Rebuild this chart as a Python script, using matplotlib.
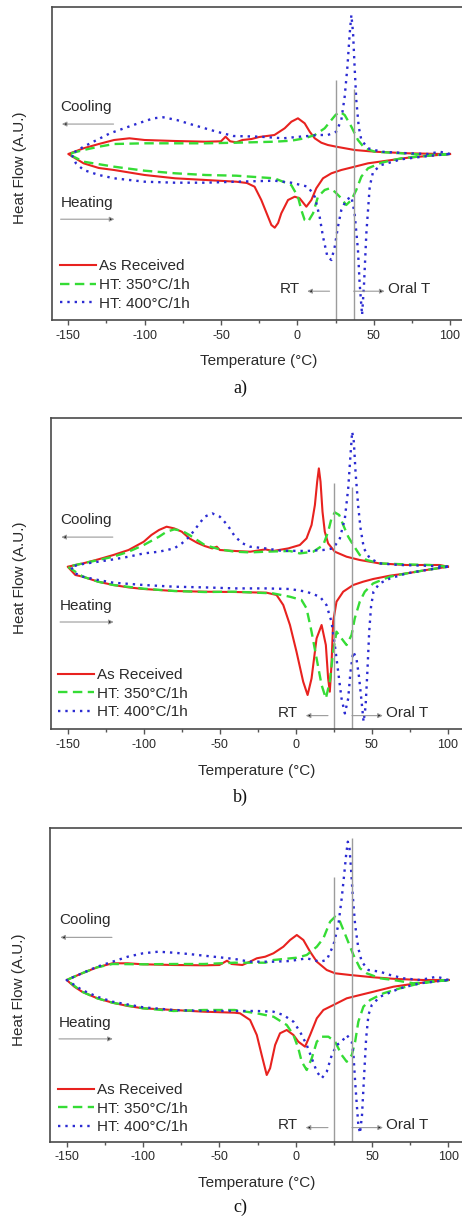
import numpy as np
import matplotlib.pyplot as plt

plt.rcParams['font.family'] = ['Liberation Sans', 'DejaVu Sans']
plt.rcParams['axes.unicode_minus'] = False

# DSC curves, temperature in degC, heat flow in arbitrary units
# ---- panel a ----
a_red_cool_t = [-150, -140, -130, -120, -110, -100, -80, -60, -50, -47, -44, -40, -36, -30, -25, -15,
                -8.3, -3.9, 0.4, 4.8, 8.1, 11.4, 15.7, 20, 25.5, 37.5, 50.7, 72.5, 94.3, 100]
a_red_cool_hf = [0, 0.57, 1.0, 1.4, 1.57, 1.4, 1.3, 1.23, 1.27, 1.73, 1.27, 1.17, 1.4, 1.5, 1.7, 1.9,
                 2.57, 3.23, 3.57, 3.07, 2.23, 1.57, 1.13, 0.9, 0.73, 0.4, 0.23, 0.07, 0.0, 0]
a_red_heat_t = [-150, -140, -130, -120, -100, -80, -60, -40, -33, -28, -23.6, -19.2, -17, -14.8, -12.6,
                -10.5, -6.1, -1.7, 1.5, 5.9, 9.2, 12.4, 16.8, 22.3, 28.8, 37.5, 46.3, 57.2, 72.5, 90, 100]
a_red_heat_hf = [0, -0.93, -1.4, -1.6, -2.1, -2.43, -2.6, -2.77, -2.9, -3.27, -4.6, -6.27, -7.1, -7.37, -6.9,
                 -5.93, -4.6, -4.27, -4.43, -5.27, -4.6, -3.43, -2.43, -1.93, -1.6, -1.27, -0.93, -0.7, -0.37, -0.13, 0]
a_green_cool_t = [-150, -140, -130, -120, -100, -80, -60, -40, -15, -4, 4.8, 11.4, 17.9, 22.3, 25, 27.7,
                  31, 35.4, 39.7, 44.1, 50.7, 68, 85.6, 100]
a_green_cool_hf = [0, 0.4, 0.73, 1.0, 1.07, 1.07, 1.07, 1.13, 1.23, 1.33, 1.57, 1.9, 2.57, 3.4, 3.9, 4.23,
                   3.9, 2.73, 1.4, 0.57, 0.23, 0.07, -0.1, 0]
a_green_heat_t = [-150, -140, -120, -100, -80, -60, -40, -15, -4, 0.4, 2.6, 4.8, 7, 10.3, 13.5, 17.9, 21.2,
                  24.5, 28.8, 32, 35.4, 38.6, 41.9, 46.3, 55, 68, 85, 100]
a_green_heat_hf = [0, -0.77, -1.27, -1.67, -1.93, -2.1, -2.17, -2.43, -3.1, -4.27, -5.6, -6.6, -6.77, -5.93,
                   -4.27, -3.6, -3.43, -3.77, -4.43, -5.1, -4.6, -3.6, -2.27, -1.43, -0.87, -0.43, -0.17, 0]
a_blue_cool_t = [-148, -140, -122.7, -107.4, -94.3, -87.8, -79, -68.1, -52.8, -41.9, -24.4, -9.2, 1.5, 7,
                 13.5, 20, 25.5, 28.8, 31, 32.8, 34.3, 35.4, 36.5, 37.5, 38.6, 40.2, 41.9, 46.3, 55, 72.5,
                 85.6, 93.2, 100]
a_blue_cool_hf = [0, 0.73, 2.07, 2.9, 3.57, 3.67, 3.4, 2.9, 2.23, 1.8, 1.73, 1.57, 1.73, 1.8,
                  1.9, 1.9, 2.23, 3.4, 5.73, 8.73, 12.07, 13.9, 12.07, 8.73, 5.4, 2.73, 1.4, 0.57, 0.23, 0.07,
                  0, 0.23, 0]
a_blue_heat_t = [-148, -145, -140, -130, -120, -100, -80, -60, -40, -15, -4, 7, 11.4, 14.6, 16.8, 19.7,
                 22.3, 24.5, 26.6, 28.8, 32, 35.4, 37.5, 39.7, 40.8, 42.4, 43.7, 45.2, 47.4, 49.6, 55, 68,
                 85.6, 100]
a_blue_heat_hf = [0, -0.93, -1.6, -2.1, -2.43, -2.77, -2.87, -2.87, -2.77, -2.67, -2.87, -3.27, -4.27, -6.27,
                  -8.27, -10.27, -10.6, -9.27, -7.27, -5.6, -4.6, -4.27, -5.93, -9.6, -12.93, -16.1, -12.93,
                  -7.93, -3.27, -1.77, -1.1, -0.53, -0.2, 0]

# ---- panel b ----
b_red_cool_t = [-150, -140, -130, -120, -110, -100, -95, -90, -85, -80, -75, -70, -65, -60, -55, -52, -50,
                -40, -30, -20, -15, -5, 2.6, 7, 10.3, 12.5, 14, 15.1, 16.2, 17.5, 19, 21.2, 25.6, 33.3,
                42, 55, 72.7, 94.6, 100]
b_red_cool_hf = [0, 0.33, 0.73, 1.17, 1.67, 2.5, 3.17, 3.67, 4.0, 3.83, 3.5, 2.83, 2.4, 2.07, 1.83, 2.0,
                 1.67, 1.57, 1.5, 1.73, 1.57, 1.83, 2.17, 2.83, 4.17, 6.17, 8.5, 9.83, 8.5, 5.5, 3.5, 2.33,
                 1.5, 1.0, 0.67, 0.33, 0.17, 0.17, 0]
b_red_heat_t = [-150, -145, -140, -130, -120, -110, -100, -80, -60, -40, -19.3, -12.7, -8.3, -3.9, 0.4,
                4.8, 7.7, 10.3, 13.6, 16.9, 19.7, 21.2, 22.3, 23.4, 24.5, 26.7, 31.1, 37.7, 44.2, 50.8,
                61.7, 72.7, 85.8, 100]
b_red_heat_hf = [0, -0.83, -1.0, -1.5, -1.83, -2.07, -2.23, -2.43, -2.5, -2.53, -2.6, -2.83, -3.83, -5.83,
                 -8.5, -11.5, -12.83, -11.17, -7.17, -5.83, -7.83, -11.17, -12.5, -9.83, -5.5, -3.5, -2.5,
                 -1.83, -1.5, -1.23, -0.9, -0.67, -0.33, 0]
b_green_cool_t = [-150, -140, -120, -110, -100, -90, -85, -80, -75, -70, -65, -60, -50, -40, -30, -20, -4,
                  2.6, 11.4, 18, 21.2, 23.4, 25.6, 28.5, 31.1, 34.4, 37.7, 42, 46.4, 55.2, 72.7, 88, 100]
b_green_cool_hf = [0, 0.33, 1.0, 1.5, 2.17, 3.0, 3.5, 3.73, 3.6, 3.17, 2.67, 2.17, 1.73, 1.5, 1.43, 1.5,
                   1.57, 1.33, 1.5, 2.17, 3.5, 4.83, 5.43, 5.17, 4.17, 3.0, 2.17, 1.17, 0.67, 0.33, 0.23,
                   0.17, 0]
b_green_heat_t = [-150, -140, -130, -120, -100, -80, -60, -40, -15, -4, 3.7, 7, 10.3, 13.6, 16.9, 19.7,
                  22.3, 24.5, 26.7, 30, 33.3, 36.6, 38.7, 42, 45.3, 50.8, 61.7, 72.7, 85.8, 100]
b_green_heat_hf = [0, -1.0, -1.5, -1.83, -2.2, -2.43, -2.53, -2.5, -2.67, -3.0, -3.33, -4.17, -6.5, -9.17,
                   -11.83, -13.17, -11.5, -8.5, -6.5, -7.17, -7.83, -6.83, -5.17, -3.5, -2.5, -1.67, -1.0,
                   -0.67, -0.33, 0]
b_blue_cool_t = [-148, -140, -130, -120, -110, -100, -90, -80, -75, -70, -65, -60, -55, -50, -45, -40, -35,
                 -30, -20, -10, 7, 18, 24.5, 28.9, 32.2, 34.4, 35.9, 37, 38.1, 39.2, 40.9, 42.5, 44.7,
                 48.6, 55.2, 68.3, 85.8, 100]
b_blue_cool_hf = [0, 0.27, 0.5, 0.73, 1.0, 1.33, 1.5, 1.83, 2.33, 3.0, 4.0, 5.0, 5.33, 5.0, 4.17, 3.0,
                  2.33, 2.0, 1.83, 1.6, 1.57, 1.67, 1.83, 2.83, 4.83, 7.83, 11.17, 13.5, 12.5, 9.5, 6.17,
                  3.83, 1.83, 0.83, 0.33, 0.17, 0.1, 0]
b_blue_heat_t = [-148, -145, -140, -130, -120, -100, -80, -60, -40, -20, -4, 7, 15.8, 20.1, 23.4, 25.6,
                 27.8, 30, 32.2, 34.4, 35.9, 37.7, 39.8, 41.5, 43.2, 44.5, 45.8, 47, 48.2, 49.4, 51, 55,
                 62, 72.7, 85.8, 100]
b_blue_heat_hf = [0, -0.67, -1.0, -1.33, -1.6, -1.83, -2.0, -2.07, -2.17, -2.17, -2.23, -2.5, -3.0, -3.83,
                  -5.5, -7.83, -10.5, -13.17, -14.67, -13.17, -10.5, -8.5, -9.17, -11.0, -13.5, -15.5,
                  -14.0, -10.5, -6.5, -4.0, -2.5, -1.67, -1.17, -0.67, -0.33, 0]

# ---- panel c ----
c_red_cool_t = [-150, -140, -130, -120, -110, -100, -80, -60, -50, -45, -42, -35, -30, -25.5, -20, -14.6,
                -8.1, -3.7, 0.7, 5, 9.4, 13.8, 20.3, 25.8, 35.6, 50.9, 66, 83.6, 100]
c_red_cool_hf = [0, 0.67, 1.27, 1.67, 1.67, 1.57, 1.5, 1.47, 1.5, 1.93, 1.6, 1.5, 1.83, 2.17, 2.33, 2.67,
                 3.33, 4.0, 4.5, 4.0, 2.83, 1.83, 1.0, 0.67, 0.5, 0.27, 0.1, 0, 0]
c_red_heat_t = [-150, -145, -140, -130, -120, -110, -100, -80, -60, -40, -36.5, -29.9, -25.5, -22.3, -19,
                -16.8, -13.5, -10.3, -5.9, -1.5, 1.7, 6.1, 9.4, 13.8, 18.1, 24.7, 33.4, 42.1, 50.9, 64,
                79.3, 100]
c_red_heat_hf = [0, -0.67, -1.17, -1.83, -2.27, -2.6, -2.83, -3.0, -3.17, -3.27, -3.33, -4.0, -5.5, -7.5,
                 -9.5, -8.83, -6.5, -5.33, -5.0, -5.5, -6.17, -6.67, -5.5, -3.83, -3.0, -2.5, -1.83, -1.5,
                 -1.17, -0.67, -0.33, 0]
c_green_cool_t = [-150, -140, -130, -120, -100, -80, -60, -40, -20, -14.6, 0.7, 7.2, 13.8, 18.1, 22.5,
                  25.8, 29, 33.4, 37.8, 42.1, 46.5, 55.2, 64, 77, 88, 100]
c_green_cool_hf = [0, 0.67, 1.27, 1.6, 1.57, 1.6, 1.6, 1.73, 1.73, 2.0, 2.23, 2.5, 3.33, 4.17, 5.83,
                   6.33, 5.83, 4.17, 2.5, 1.17, 0.67, 0.17, 0, -0.33, -0.17, 0]
c_green_heat_t = [-150, -140, -130, -120, -100, -80, -60, -40, -25.5, -14.6, -5.9, -1.5, 1.7, 3.9, 7.2,
                  10.5, 13.8, 17, 21.4, 25.8, 30.1, 33.4, 36.7, 38.9, 41, 44.3, 48.7, 57.4, 68.3, 81.4, 100]
c_green_heat_hf = [0, -1.17, -1.83, -2.27, -2.83, -3.1, -3.0, -3.0, -3.33, -3.67, -4.5, -5.5, -6.83, -8.17,
                   -9.0, -7.83, -6.17, -5.67, -5.67, -6.17, -7.5, -8.17, -7.5, -6.17, -4.17, -2.67, -2.0,
                   -1.33, -0.83, -0.33, 0]
c_blue_cool_t = [-150, -140, -130, -120, -110, -100, -90, -80, -70, -60, -50, -40, -30, -14.6, -3.7, 7.2,
                 15.9, 20.3, 24.7, 27.9, 30.1, 31.7, 33, 34.1, 35.2, 36.2, 37.3, 38.9, 41, 43.2, 47.6,
                 55.2, 61.8, 70.5, 81.4, 92.4, 100]
c_blue_cool_hf = [0, 0.67, 1.33, 1.83, 2.33, 2.67, 2.83, 2.73, 2.6, 2.43, 2.27, 2.1, 1.83, 1.83, 1.9,
                  2.17, 1.83, 2.0, 3.5, 5.5, 8.17, 10.5, 12.5, 13.83, 13.17, 11.17, 8.5, 5.5, 3.17, 1.83,
                  1.0, 0.83, 0.5, 0.17, 0, 0.33, 0]
c_blue_heat_t = [-150, -145, -140, -130, -120, -100, -80, -60, -40, -25.5, -14.6, -8.1, -1.5, 2.8, 7.2,
                 10.5, 13.8, 17, 20.3, 23.6, 26.9, 30.1, 33.4, 36.7, 37.8, 38.9, 40, 41, 42.1, 43.4, 44.8,
                 46.1, 47.6, 49.8, 55.2, 68.3, 81.4, 100]
c_blue_heat_hf = [0, -0.5, -1.0, -1.67, -2.17, -2.73, -3.0, -3.1, -3.1, -3.1, -3.17, -3.5, -4.17, -5.17,
                  -6.5, -7.83, -9.17, -9.83, -9.17, -7.5, -6.5, -6.17, -5.5, -6.17, -7.5, -10.17, -12.5,
                  -14.5, -15.33, -13.5, -9.5, -5.83, -3.5, -2.5, -1.67, -0.83, -0.33, 0]

labels = ['As Received', 'HT: 350°C/1h', 'HT: 400°C/1h']
rt_temp = 25
oral_temp = 37

styles = [dict(color='#e8221f', lw=1.5, ls='-'),
          dict(color='#35dc35', lw=1.7, ls=(0, (4, 2.3))),
          dict(color='#2b2bd2', lw=1.7, ls=(0, (1, 2.1)))]

panels = [
    dict(name='a)',
         curves=[(a_red_cool_t, a_red_cool_hf, a_red_heat_t, a_red_heat_hf),
                 (a_green_cool_t, a_green_cool_hf, a_green_heat_t, a_green_heat_hf),
                 (a_blue_cool_t, a_blue_cool_hf, a_blue_heat_t, a_blue_heat_hf)],
         rect=(51.5, 7, 465.3, 320), ylim=(-16.6, 14.7), rt_top=7.4, oral_top=6.5,
         cool_y=0.681, heat_y=0.374, rt_y=0.100, leg=(0.02, 0.03), cap_y=388),
    dict(name='b)',
         curves=[(b_red_cool_t, b_red_cool_hf, b_red_heat_t, b_red_heat_hf),
                 (b_green_cool_t, b_green_cool_hf, b_green_heat_t, b_green_heat_hf),
                 (b_blue_cool_t, b_blue_cool_hf, b_blue_heat_t, b_blue_heat_hf)],
         rect=(51, 418.3, 463.2, 729.3), ylim=(-16.26, 14.84), rt_top=8.33, oral_top=8.0,
         cool_y=0.673, heat_y=0.397, rt_y=0.052, leg=(0.016, 0.032), cap_y=797),
    dict(name='c)',
         curves=[(c_red_cool_t, c_red_cool_hf, c_red_heat_t, c_red_heat_hf),
                 (c_green_cool_t, c_green_cool_hf, c_green_heat_t, c_green_heat_hf),
                 (c_blue_cool_t, c_blue_cool_hf, c_blue_heat_t, c_blue_heat_hf)],
         rect=(49.9, 828.3, 463.7, 1141.7), ylim=(-16.17, 15.17), rt_top=10.33, oral_top=14.17,
         cool_y=0.707, heat_y=0.380, rt_y=0.053, leg=(0.019, 0.024), cap_y=1207),
]

W, H = 462, 1216
fig = plt.figure(figsize=(W / 100, H / 100), dpi=100)
txt = '#2a2a2a'
arrow_kw = dict(arrowstyle='-|>', lw=0.8, ec='#9a9a9a', fc='#111111', mutation_scale=7,
                shrinkA=0, shrinkB=0)

for p in panels:
    l, t, r, b = p['rect']
    ax = fig.add_axes([l / W, 1 - b / H, (r - l) / W, (b - t) / H])
    for (ct, chf, ht, hhf), st, lab in zip(p['curves'], styles, labels):
        # cooling run goes from hot to cold, heating back up again
        x = np.r_[ct[::-1], ht]
        y = np.r_[chf[::-1], hhf]
        ax.plot(x, y, label=lab, **st)

    ax.set_xlim(-161, 110)
    ax.set_ylim(*p['ylim'])
    ax.vlines(rt_temp, p['ylim'][0], p['rt_top'], color='#9c9c9c', lw=1.0)
    ax.vlines(oral_temp, p['ylim'][0], p['oral_top'], color='#9c9c9c', lw=1.0)

    ax.set_xticks([-150, -100, -50, 0, 50, 100])
    ax.set_xticks(np.arange(-125, 100, 50), minor=True)
    ax.set_yticks([])
    ax.tick_params(axis='x', which='major', direction='out', length=3.5, width=1, color='#555555',
                   labelsize=9, labelcolor=txt, pad=3.5)
    ax.tick_params(axis='x', which='minor', direction='out', length=2, width=1, color='#555555')
    for s in ax.spines.values():
        s.set_color('#4a4a4a')
        s.set_linewidth(1.2)

    ax.set_xlabel('Temperature (°C)', fontsize=11, color=txt)
    ax.xaxis.set_label_coords(0.5, -0.11)
    ax.set_ylabel('Heat Flow (A.U.)', fontsize=11, color=txt)
    ax.yaxis.set_label_coords(-0.058, 0.486)

    cy, hy, ry = p['cool_y'], p['heat_y'], p['rt_y']
    ax.text(0.022, cy, 'Cooling', transform=ax.transAxes, fontsize=11, color=txt, va='center')
    ax.annotate('', xy=(0.025, cy - 0.055), xytext=(0.15, cy - 0.055), xycoords='axes fraction',
                arrowprops=arrow_kw)
    ax.text(0.022, hy, 'Heating', transform=ax.transAxes, fontsize=11, color=txt, va='center')
    ax.annotate('', xy=(0.152, hy - 0.052), xytext=(0.022, hy - 0.052), xycoords='axes fraction',
                arrowprops=arrow_kw)
    ax.text(0.551, ry, 'RT', transform=ax.transAxes, fontsize=11, color=txt, va='center')
    ax.annotate('', xy=(0.618, ry - 0.008), xytext=(0.672, ry - 0.008), xycoords='axes fraction',
                arrowprops=arrow_kw)
    ax.text(0.812, ry, 'Oral T', transform=ax.transAxes, fontsize=11, color=txt, va='center')
    ax.annotate('', xy=(0.805, ry - 0.008), xytext=(0.73, ry - 0.008), xycoords='axes fraction',
                arrowprops=arrow_kw)

    ax.legend(loc='lower left', bbox_to_anchor=p['leg'], frameon=False, fontsize=11, labelcolor=txt,
              handlelength=2.4, handletextpad=0.2, labelspacing=0.3, borderpad=0, borderaxespad=0)

    fig.text(240 / W, 1 - p['cap_y'] / H, p['name'], ha='center', va='center', fontsize=13,
             family=['Liberation Serif', 'DejaVu Serif'], color='#111111')

fig.savefig('out.png', dpi=100)
